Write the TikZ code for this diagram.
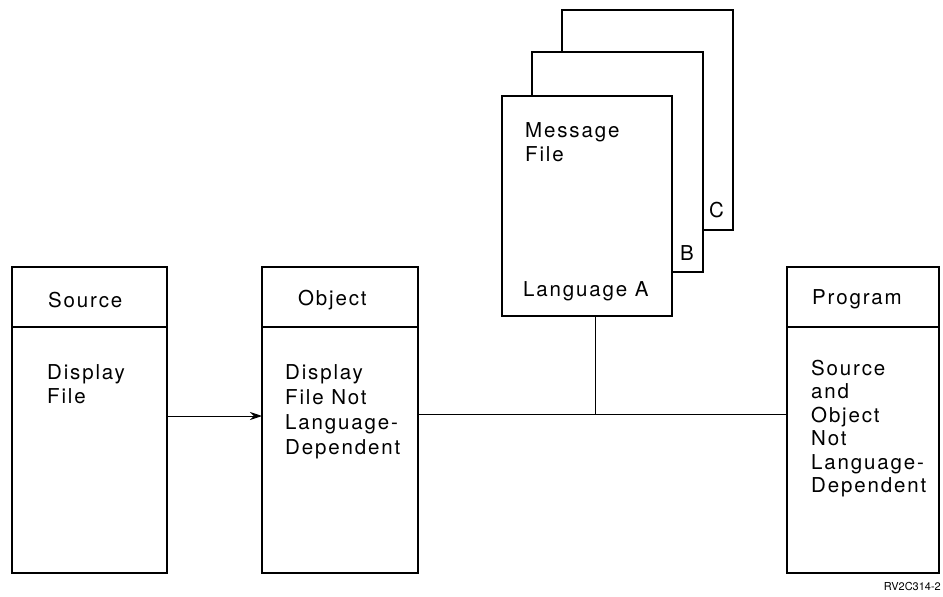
\documentclass[tikz,border=0pt]{standalone}
\usepackage{fontspec}
\setmainfont{TeX Gyre Heros}[LetterSpace=9]
\newfontfamily\smallfnt{TeX Gyre Heros}
\usetikzlibrary{arrows.meta}
\begin{document}
\begin{tikzpicture}[x=1pt,y=-1pt,
  box/.style={draw,line width=1.1pt,fill=white,rectangle,inner sep=0pt,outer sep=0pt,anchor=north west},
  lbl/.style={anchor=base west,inner sep=0pt,font=\fontsize{20.5}{24}\selectfont,align=left},
  conn/.style={line width=0.9pt},
  arr/.style={conn,-{Stealth[length=12pt,width=8pt]}}]
\useasboundingbox (0,0) rectangle (943,597);
% Source
\node[box,minimum width=155pt,minimum height=306pt] (src) at (12,267) {};
\draw[line width=1.1pt] (src.west|-0,327) -- (src.east|-0,327);
\node[lbl] (srcH) at (48,307.5) {Source};
\node[lbl] (srcB) at (47,403.5) {Display\\File};
% Object
\node[box,minimum width=156pt,minimum height=306pt] (obj) at (262,267) {};
\draw[line width=1.1pt] (obj.west|-0,327) -- (obj.east|-0,327);
\node[lbl] (objH) at (298,305.5) {Object};
\node[lbl,font=\fontsize{20.5}{25}\selectfont] (objB) at (285,454.5) {Display\\File Not\\Language-\\Dependent};
% Program
\node[box,minimum width=152pt,minimum height=306pt] (prog) at (787,267) {};
\draw[line width=1.1pt] (prog.west|-0,327) -- (prog.east|-0,327);
\node[lbl] (progH) at (812,304.5) {Program};
\node[lbl,font=\fontsize{20.5}{23.4}\selectfont] (progB) at (811,492.5) {Source\\and\\Object\\Not\\Language-\\Dependent};
% Message file stack
\node[box,minimum width=171pt,minimum height=220pt] (msgC) at (562,10) {};
\node[box,minimum width=171pt,minimum height=220pt] (msgB) at (532,52) {};
\node[box,minimum width=170pt,minimum height=220pt] (msgA) at (502,96) {};
\node[lbl] (cL) at (709,217.5) {C};
\node[lbl] (bL) at (680,260.5) {B};
\node[lbl] (mL) at (525,161.5) {Message\\File};
\node[lbl] (aL) at (523,296) {Language A};
% connectors
\coordinate (ay) at (0,416);
\coordinate (j) at (595,414);
\draw[arr] (src.east|-ay) -- (obj.west|-ay);
\draw[conn] (obj.east|-j) -- (prog.west|-j);
\draw[conn] (msgA.south-|j) -- (j);
% figure id
\node[anchor=base east,inner sep=0pt,font=\smallfnt\fontsize{11}{13}\selectfont] (fid) at (941,590) {RV2C314-2};
\end{tikzpicture}
\end{document}
